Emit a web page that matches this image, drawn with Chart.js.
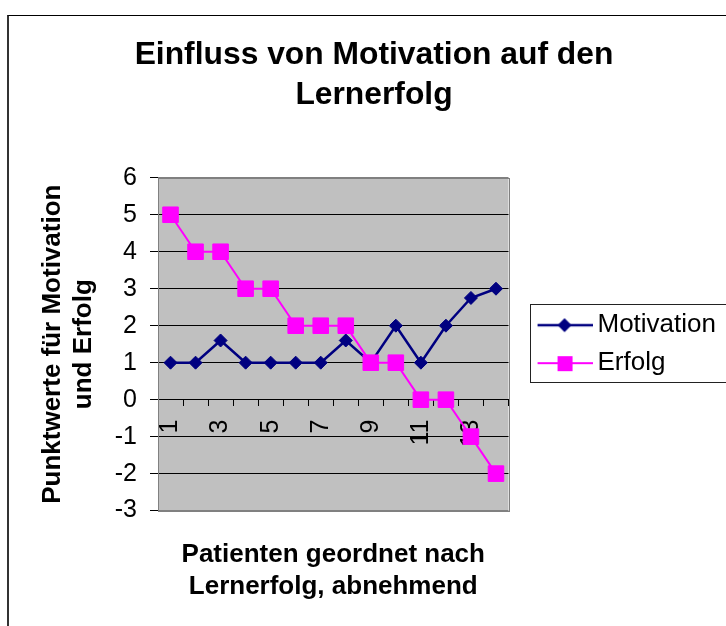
<!DOCTYPE html>
<html>
<head>
<meta charset="utf-8">
<title>Einfluss von Motivation auf den Lernerfolg</title>
<script src="https://cdn.jsdelivr.net/npm/chart.js@4.4.1/dist/chart.umd.min.js"></script>
<style>
  html, body { margin: 0; padding: 0; background: #fff; overflow: hidden; }
  #frame {
    position: absolute; left: 7px; top: 15px; width: 800px; height: 700px;
    border-left: 2px solid #333; border-top: 1px solid #000;
  }
  #wrap { position: absolute; left: 0; top: 0; width: 726px; height: 626px; }
</style>
</head>
<body>
<div id="frame"></div>
<div id="wrap"><canvas id="lernChart" width="726" height="626"></canvas></div>
<script>
// Patienten 1..14, sortiert nach Lernerfolg
const patients = ['1', '2', '3', '4', '5', '6', '7', '8', '9', '10', '11', '12', '13', '14'];
const motivation = [1, 1, 1.6, 1, 1, 1, 1, 1.6, 1, 2, 1, 2, 2.75, 3];
const erfolg = [5, 4, 4, 3, 3, 2, 2, 2, 1, 1, 0, 0, -1, -2];
const yMin = -3;
const yMax = 6;

Chart.defaults.font.family = "'Liberation Sans', Arial, sans-serif";
Chart.defaults.color = '#000';

// little line + marker picture for the legend entries
function makeSwatch(color, lineWidth, shape) {
    const c = document.createElement('canvas');
    c.width = 80;
    c.height = 20;
    const g = c.getContext('2d');
    g.strokeStyle = color;
    g.fillStyle = color;
    g.lineWidth = lineWidth;
    g.beginPath();
    g.moveTo(25, 10);
    g.lineTo(80, 10);
    g.stroke();
    g.beginPath();
    if (shape === 'rectRot') {
        g.moveTo(52, 3); g.lineTo(59, 10); g.lineTo(52, 17); g.lineTo(45, 10);
    } else {
        g.rect(45, 3, 15, 15);
    }
    g.closePath();
    g.fill();
    return c;
}

// grey plot area with a grey frame
const plotBackground = {
    id: 'plotBackground',
    beforeDraw(chart) {
        const { ctx, chartArea: a } = chart;
        ctx.save();
        ctx.fillStyle = '#c0c0c0';
        ctx.fillRect(a.left, a.top, a.right - a.left, a.bottom - a.top);
        ctx.strokeStyle = '#808080';
        ctx.lineWidth = 1;
        ctx.strokeRect(Math.round(a.left) + 0.5, Math.round(a.top) + 0.5,
            Math.round(a.right - a.left), Math.round(a.bottom - a.top));
        ctx.restore();
    }
};

// frame around the legend
const legendFrame = {
    id: 'legendFrame',
    afterDraw(chart) {
        const lg = chart.legend;
        if (!lg || !lg.legendHitBoxes.length) return;
        const first = lg.legendHitBoxes[0];
        const last = lg.legendHitBoxes[lg.legendHitBoxes.length - 1];
        const x = Math.round(lg.left + 21) + 0.5;
        const y = Math.round(first.top - 8) + 0.5;
        const h = Math.round(last.top + last.height + 6 - y);
        const ctx = chart.ctx;
        ctx.save();
        ctx.strokeStyle = '#222';
        ctx.lineWidth = 1;
        ctx.strokeRect(x, y, 400, h);
        ctx.restore();
    }
};

const ctx = document.getElementById('lernChart').getContext('2d');

const chart = new Chart(ctx, {
    type: 'line',
    data: {
        labels: patients,
        datasets: [{
            label: 'Motivation',
            data: motivation,
            borderColor: '#000080',
            backgroundColor: '#000080',
            borderWidth: 2.5,
            pointStyle: 'rectRot',
            pointRadius: 6.5,
            pointBorderWidth: 1,
            tension: 0,
            order: 1
        }, {
            label: 'Erfolg',
            data: erfolg,
            borderColor: '#ff00ff',
            backgroundColor: '#ff00ff',
            borderWidth: 2,
            pointStyle: 'rect',
            pointRadius: 11,
            pointBorderWidth: 1,
            tension: 0,
            order: 0
        }]
    },
    options: {
        responsive: false,
        animation: false,
        layout: { padding: { left: 22, right: 0, top: 0, bottom: 0 } },
        plugins: {
            title: {
                display: true,
                text: ['Einfluss von Motivation auf den', 'Lernerfolg'],
                font: { size: 31.8, weight: 'bold', lineHeight: 1.27 },
                color: '#000',
                padding: { top: 35, bottom: 62 }
            },
            subtitle: {
                display: true,
                position: 'bottom',
                fullSize: false,
                text: ['Patienten geordnet nach', 'Lernerfolg, abnehmend'],
                font: { size: 26, weight: 'bold', lineHeight: 1.2 },
                color: '#000',
                padding: { top: 29, bottom: 24 }
            },
            legend: {
                position: 'right',
                fullSize: false,
                maxWidth: 230,
                labels: {
                    usePointStyle: true,
                    pointStyleWidth: 64,
                    padding: 12,
                    font: { size: 26 },
                    color: '#000',
                    generateLabels(chart) {
                        return chart.data.datasets.map((ds, i) => ({
                            text: ds.label,
                            pointStyle: makeSwatch(ds.borderColor, ds.borderWidth, ds.pointStyle),
                            fillStyle: ds.backgroundColor,
                            strokeStyle: ds.borderColor,
                            lineWidth: 0,
                            fontColor: '#000',
                            hidden: false,
                            datasetIndex: i
                        }));
                    }
                }
            },
            tooltip: { enabled: false }
        },
        scales: {
            x: {
                position: { y: 0 },
                offset: true,
                grid: {
                    offset: true,
                    drawOnChartArea: false,
                    drawTicks: true,
                    tickLength: 6,
                    color: '#000'
                },
                border: { color: '#000', width: 1 },
                ticks: {
                    autoSkip: false,
                    minRotation: 90,
                    maxRotation: 90,
                    padding: 14,
                    font: { size: 25 },
                    color: '#000',
                    callback: (value, index) => (index % 2 === 0 ? patients[index] : '')
                }
            },
            y: {
                min: yMin,
                max: yMax,
                afterFit(scale) { scale.width = 136; },
                ticks: {
                    stepSize: 1,
                    padding: 13,
                    font: { size: 25 },
                    color: '#000'
                },
                grid: {
                    tickLength: 8,
                    tickColor: '#000',
                    color: (c) => (c.tick && (c.tick.value === yMin || c.tick.value === yMax) ? '#808080' : '#000')
                },
                border: { color: '#808080', width: 1 },
                title: {
                    display: true,
                    text: ['Punktwerte für Motivation', 'und Erfolg'],
                    font: { size: 26, weight: 'bold', lineHeight: 1.2 },
                    color: '#000',
                    padding: { top: 15, bottom: 0 }
                }
            }
        }
    },
    plugins: [plotBackground, legendFrame]
});
</script>
</body>
</html>
